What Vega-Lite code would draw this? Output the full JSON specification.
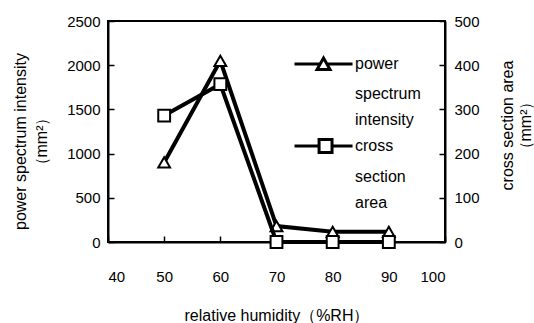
{
  "$schema": "https://vega.github.io/schema/vega-lite/v6.json",
  "autosize": "none",
  "width": 337,
  "height": 221,
  "padding": {"left": 108, "top": 21, "right": 89, "bottom": 81},
  "background": "white",
  "config": {
    "font": "Liberation Sans",
    "view": {"stroke": "black", "strokeWidth": 2},
    "axis": {
      "domainColor": "black", "domainWidth": 2,
      "tickColor": "black", "tickWidth": 1.5, "tickSize": -6,
      "labelColor": "black", "labelFontSize": 15, "labelFont": "Liberation Sans",
      "titleColor": "black", "titleFontSize": 16, "titleFontWeight": "normal", "titleFont": "Liberation Sans",
      "grid": false, "format": "d"
    }
  },
  "data": {
    "values": [
      {"rh": 50, "series": "power spectrum intensity", "value": 900},
      {"rh": 60, "series": "power spectrum intensity", "value": 2050},
      {"rh": 70, "series": "power spectrum intensity", "value": 180},
      {"rh": 80, "series": "power spectrum intensity", "value": 115},
      {"rh": 90, "series": "power spectrum intensity", "value": 115},
      {"rh": 50, "series": "cross section area", "value": 286},
      {"rh": 60, "series": "cross section area", "value": 357},
      {"rh": 70, "series": "cross section area", "value": 0},
      {"rh": 80, "series": "cross section area", "value": 0},
      {"rh": 90, "series": "cross section area", "value": 0}
    ]
  },
  "encoding": {
    "x": {
      "field": "rh", "type": "quantitative",
      "scale": {"domain": [40, 100], "nice": false, "zero": false},
      "axis": {
        "values": [40, 50, 60, 70, 80, 90, 100],
        "title": "relative humidity（%RH）",
        "labelPadding": 33,
        "titleY": 65, "titleBaseline": "top"
      }
    }
  },
  "layer": [
    {
      "transform": [{"filter": "datum.series == 'power spectrum intensity'"}],
      "encoding": {
        "y": {
          "field": "value", "type": "quantitative",
          "scale": {"domain": [0, 2500], "nice": false},
          "axis": {
            "orient": "left",
            "values": [0, 500, 1000, 1500, 2000, 2500],
            "labelPadding": 14,
            "title": ["power spectrum intensity", "（mm²）"],
            "titleAngle": -90,
            "titleX": -96, "titleY": 120,
            "titleAlign": "center", "titleBaseline": "top",
            "titleLineHeight": 21
          }
        }
      },
      "layer": [
        {"mark": {"type": "line", "color": "black", "strokeWidth": 4}},
        {
          "mark": {"type": "point", "shape": "triangle-up", "filled": true, "fill": "white", "stroke": "black", "strokeWidth": 2, "size": 140, "opacity": 1}
        },
        {
          "transform": [{"filter": "datum.rh < 0"}],
          "mark": {"type": "point", "filled": false, "color": "black", "strokeWidth": 3, "opacity": 1},
          "encoding": {
            "shape": {
              "field": "series", "type": "nominal",
              "scale": {
                "domain": ["power", "spectrum", "intensity", "cross", "section", "area"],
                "range": [
                  "M-3.37,0H-1.47M-0.97,0H0.93M-1.22,-0.44L-0.74,0.41L-1.7,0.41Z",
                  "M0,0",
                  "M0,0",
                  "M-3.37,0H-1.55M-0.59,0H0.93M-1.55,-0.48H-0.59V0.48H-1.55Z",
                  "M0,0",
                  "M0,0"
                ]
              },
              "legend": {
                "orient": "none", "legendX": 217, "legendY": 28,
                "title": null, "padding": 0,
                "symbolSize": 729, "symbolStrokeWidth": 3,
                "symbolStrokeColor": "black", "symbolFillColor": "white",
                "labelFontSize": 16, "labelColor": "black", "labelOffset": 0,
                "rowPadding": 3
              }
            }
          }
        }
      ]
    },
    {
      "transform": [{"filter": "datum.series == 'cross section area'"}],
      "encoding": {
        "y": {
          "field": "value", "type": "quantitative",
          "scale": {"domain": [0, 500], "nice": false},
          "axis": {
            "orient": "right",
            "values": [0, 100, 200, 300, 400, 500],
            "labelPadding": 15,
            "title": ["cross section area", "（mm²）"],
            "titleAngle": -90,
            "titleX": 54, "titleY": 104,
            "titleAlign": "center", "titleBaseline": "top",
            "titleLineHeight": 18
          }
        }
      },
      "layer": [
        {"mark": {"type": "line", "color": "black", "strokeWidth": 4}},
        {
          "mark": {"type": "point", "shape": "square", "filled": true, "fill": "white", "stroke": "black", "strokeWidth": 2, "size": 140, "opacity": 1}
        }
      ]
    }
  ],
  "resolve": {"scale": {"y": "independent"}}
}
